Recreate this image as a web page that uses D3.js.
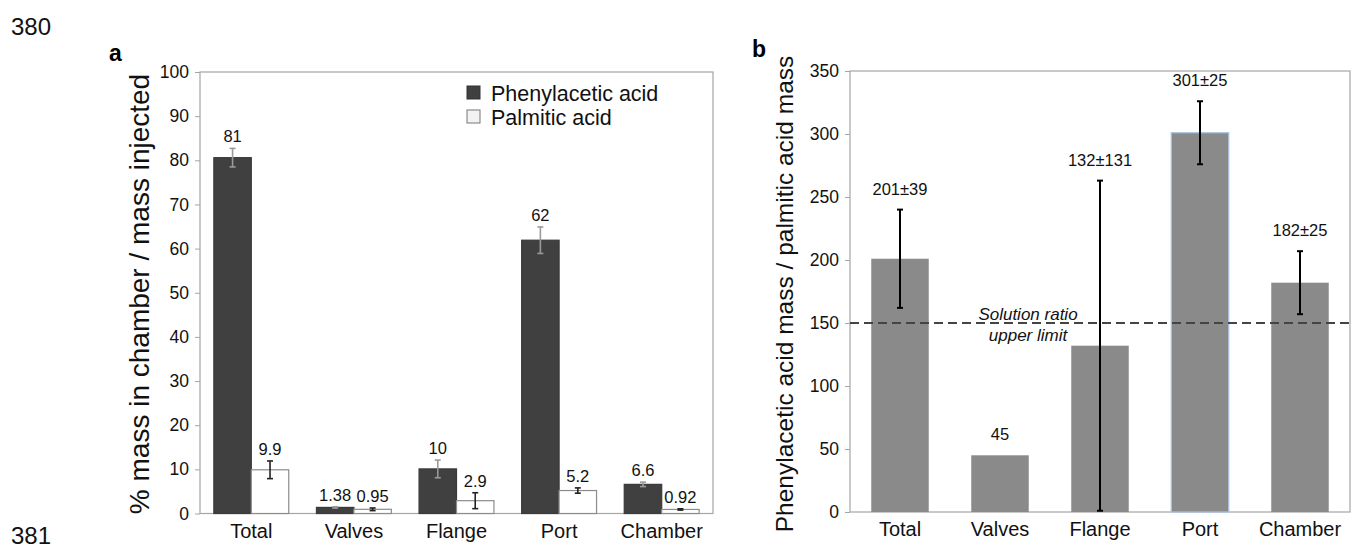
<!DOCTYPE html>
<html>
<head>
<meta charset="utf-8">
<script src="https://cdn.jsdelivr.net/npm/d3@7"></script>
<style>
  html, body { margin: 0; padding: 0; background: #fff; }
  svg { display: block; font-family: "Liberation Sans", Arial, sans-serif; }
</style>
</head>
<body>
<svg id="chart" width="1359" height="556"></svg>
<script>
// categories shared by both panels
const categories = ['Total', 'Valves', 'Flange', 'Port', 'Chamber'];

// panel a: % mass in chamber / mass injected
const phenylValues = [80.6, 1.38, 10.1, 61.9, 6.6];
const phenylErrors = [2.1, 0.15, 2.0, 3.0, 0.5];
const phenylLabels = ['81', '1.38', '10', '62', '6.6'];
const palmiticValues = [9.9, 0.95, 2.9, 5.2, 0.92];
const palmiticErrors = [2.0, 0.3, 1.8, 0.6, 0.15];
const palmiticLabels = ['9.9', '0.95', '2.9', '5.2', '0.92'];
const seriesNames = ['Phenylacetic acid', 'Palmitic acid'];
const ticksA = [0, 10, 20, 30, 40, 50, 60, 70, 80, 90, 100];

// panel b: mass ratio
const ratioValues = [201, 45, 132, 301, 182];
const ratioErrors = [39, 0, 131, 25, 25];
const ratioLabels = ['201±39', '45', '132±131', '301±25', '182±25'];
const solutionRatioLimit = 150;
const ticksB = [0, 50, 100, 150, 200, 250, 300, 350];

const svg = d3.select('#chart');
const frameColor = '#a6a6a6';
const textColor = '#111';

// page line numbers
svg.append('text').attr('x', 11).attr('y', 35).attr('font-size', 24).attr('fill', textColor).text('380');
svg.append('text').attr('x', 11).attr('y', 544).attr('font-size', 24).attr('fill', textColor).text('381');

function drawFrame(g, x0, x1, y0, y1) {
  g.append('rect')
    .attr('x', x0).attr('y', y0)
    .attr('width', x1 - x0).attr('height', y1 - y0)
    .attr('fill', 'none')
    .attr('stroke', frameColor)
    .attr('stroke-width', 1.2);
}

function drawAxes(g, x, y, ticks, height) {
  const yAxis = d3.axisLeft(y).tickValues(ticks).tickSize(5).tickPadding(6);
  const ya = g.append('g').attr('transform', `translate(${x.range()[0]},0)`).call(yAxis);
  ya.select('.domain').remove();
  ya.selectAll('line').attr('stroke', frameColor);
  ya.selectAll('text').attr('font-size', 17.5).attr('fill', textColor)
    .attr('font-family', '"Liberation Sans", Arial, sans-serif');

  const xAxis = d3.axisBottom(x).tickSize(0).tickPadding(10);
  const xa = g.append('g').attr('transform', `translate(0,${height})`).call(xAxis);
  xa.select('.domain').remove();
  xa.selectAll('text').attr('font-size', 20).attr('fill', textColor)
    .attr('font-family', '"Liberation Sans", Arial, sans-serif');
}

function errorBar(g, cx, yTop, yBottom, color, width, cap) {
  g.append('line').attr('x1', cx).attr('x2', cx).attr('y1', yTop).attr('y2', yBottom)
    .attr('stroke', color).attr('stroke-width', width);
  [yTop, yBottom].forEach((yy) => {
    g.append('line').attr('x1', cx - cap).attr('x2', cx + cap).attr('y1', yy).attr('y2', yy)
      .attr('stroke', color).attr('stroke-width', width);
  });
}

// ---------- panel a ----------
(function drawPanelA() {
  const left = 200, right = 713, top = 72, bottom = 513.5;
  const g = svg.append('g');

  const x = d3.scaleBand().domain(categories).range([left, right]).paddingInner(0.27).paddingOuter(0.135);
  const xs = d3.scaleBand().domain(seriesNames).range([0, x.bandwidth()]);
  const y = d3.scaleLinear().domain([0, 100]).range([bottom, top]);

  drawFrame(g, left, right, top, bottom);

  const series = [
    { name: seriesNames[0], values: phenylValues, errors: phenylErrors, labels: phenylLabels,
      fill: '#404040', stroke: '#3a3a3a', err: '#9a9a9a' },
    { name: seriesNames[1], values: palmiticValues, errors: palmiticErrors, labels: palmiticLabels,
      fill: '#ffffff', stroke: '#8c8c8c', err: '#222' },
  ];

  series.forEach((s) => {
    categories.forEach((c, i) => {
      const bx = x(c) + xs(s.name);
      const v = s.values[i];
      g.append('rect')
        .attr('x', bx).attr('y', y(v))
        .attr('width', xs.bandwidth()).attr('height', y(0) - y(v))
        .attr('fill', s.fill).attr('stroke', s.stroke).attr('stroke-width', 1.2);
      const cx = bx + xs.bandwidth() / 2;
      const e = s.errors[i];
      errorBar(g, cx, y(v + e), y(Math.max(0, v - e)), s.err, 1.6, 3);
      g.append('text')
        .attr('x', cx).attr('y', y(v + e) - 6)
        .attr('text-anchor', 'middle').attr('font-size', 16.5).attr('fill', textColor)
        .text(s.labels[i]);
    });
  });

  drawAxes(g, x, y, ticksA, bottom);

  // legend
  const legend = g.append('g');
  series.forEach((s, i) => {
    const ly = 93 + i * 24;
    legend.append('rect').attr('x', 467).attr('y', ly - 7).attr('width', 13).attr('height', 13)
      .attr('fill', i === 0 ? '#404040' : '#f2f2f2').attr('stroke', i === 0 ? '#333' : '#777').attr('stroke-width', 1);
    legend.append('text').attr('x', 491).attr('y', ly + 8).attr('font-size', 21.5).attr('fill', textColor).text(s.name);
  });

  g.append('text')
    .attr('transform', `translate(149,294) rotate(-90)`)
    .attr('text-anchor', 'middle').attr('font-size', 28).attr('fill', textColor)
    .text('% mass in chamber / mass injected');

  g.append('text').attr('x', 109).attr('y', 61).attr('font-size', 23).attr('font-weight', 'bold').text('a');
})();

// ---------- panel b ----------
(function drawPanelB() {
  const left = 850, right = 1350, top = 71, bottom = 512;
  const g = svg.append('g');

  const x = d3.scaleBand().domain(categories).range([left, right]).paddingInner(0.425).paddingOuter(0.2125);
  const y = d3.scaleLinear().domain([0, 350]).range([bottom, top]);

  drawFrame(g, left, right, top, bottom);

  categories.forEach((c, i) => {
    const v = ratioValues[i];
    g.append('rect')
      .attr('x', x(c)).attr('y', y(v))
      .attr('width', x.bandwidth()).attr('height', y(0) - y(v))
      .attr('fill', '#8a8a8a')
      .attr('stroke', c === 'Port' ? '#a8c4e2' : 'none').attr('stroke-width', 1.2);
  });

  // solution ratio upper limit
  g.append('line')
    .attr('x1', left).attr('x2', right)
    .attr('y1', y(solutionRatioLimit)).attr('y2', y(solutionRatioLimit))
    .attr('stroke', '#444').attr('stroke-width', 1.8).attr('stroke-dasharray', '9,5');
  g.append('text').attr('x', 1028).attr('y', y(solutionRatioLimit) - 3)
    .attr('text-anchor', 'middle').attr('font-size', 17).attr('font-style', 'italic').attr('fill', textColor)
    .text('Solution ratio');
  g.append('text').attr('x', 1028).attr('y', y(solutionRatioLimit) + 18)
    .attr('text-anchor', 'middle').attr('font-size', 17).attr('font-style', 'italic').attr('fill', textColor)
    .text('upper limit');

  categories.forEach((c, i) => {
    const v = ratioValues[i];
    const e = ratioErrors[i];
    const cx = x(c) + x.bandwidth() / 2;
    if (e > 0) errorBar(g, cx, y(v + e), y(Math.max(0, v - e)), '#000', 2, 3);
    g.append('text')
      .attr('x', cx).attr('y', y(v + e) - 15)
      .attr('text-anchor', 'middle').attr('font-size', 16.5).attr('fill', textColor)
      .text(ratioLabels[i]);
  });

  drawAxes(g, x, y, ticksB, bottom);

  g.append('text')
    .attr('transform', `translate(793,294) rotate(-90)`)
    .attr('text-anchor', 'middle').attr('font-size', 24.5).attr('fill', textColor)
    .text('Phenylacetic acid mass / palmitic acid mass');

  g.append('text').attr('x', 752).attr('y', 57).attr('font-size', 23).attr('font-weight', 'bold').text('b');
})();
</script>
</body>
</html>
